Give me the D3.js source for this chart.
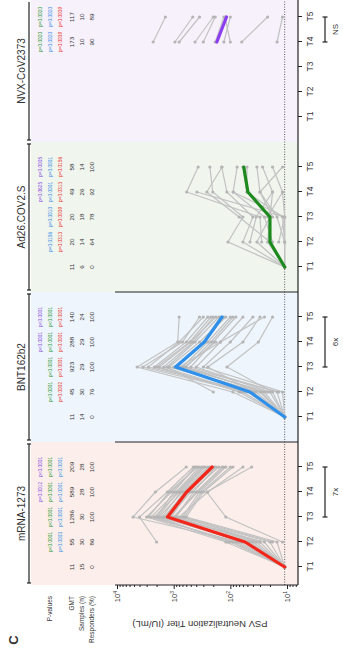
<!DOCTYPE html>
<html>
<head>
<meta charset="utf-8">
<script src="https://cdn.jsdelivr.net/npm/d3@7"></script>
<style>
  body { margin: 0; background: #fff; }
  text { font-family: "Liberation Sans", Arial, sans-serif; fill: #333; }
</style>
</head>
<body>
<svg id="chart" width="343" height="658"></svg>
<script>
// ---- data ----
var timepoints = ["T1", "T2", "T3", "T4", "T5"];
var vaccines = ["mRNA-1273", "BNT162b2", "Ad26.COV2.S", "NVX-CoV2373"];

// geometric mean titers (IU/mL) per timepoint
var gmt = [
  [11, 55, 1286, 589, 209],
  [11, 45, 923, 288, 140],
  [11, 20, 20, 49, 58],
  [null, null, null, 173, 117]
];
var samples = [
  [15, 30, 30, 28, 28],
  [14, 30, 29, 29, 24],
  [6, 14, 18, 26, 14],
  [null, null, null, 10, 10]
];
var responders = [
  [0, 86, 100, 100, 100],
  [0, 76, 100, 100, 100],
  [0, 64, 78, 92, 100],
  [null, null, null, 90, 89]
];

// p-values, three stacked lines per timepoint
var pValues = [
  [null, [null, "p<0.0001", "p=0.0003"], [null, "p<0.0001", "p<0.0001"], ["p=0.0012", "p<0.0001", "p<0.0001"], ["p<0.0001", "p<0.0001", "p<0.0001"]],
  [null, [null, "p<0.0001", "p=0.0002"], [null, "p<0.0001", "p<0.0001"], ["p<0.0001", "p<0.0001", "p<0.0001"], ["p<0.0001", "p<0.0001", "p<0.0001"]],
  [null, [null, "p=0.0156", "p=0.0313"], [null, "p=0.0010", "p=0.0039"], ["p=0.0625", "p<0.0001", "p=0.0313"], ["p=0.0005", "p=0.0001", "p=0.0156"]],
  [null, null, null, ["p=0.0020", "p=0.0020", "p=0.0039"], ["p=0.0020", "p=0.0020", "p=0.0039"]]
];
var pColors = [
  ["#8b4fe6", "#2f9a35", "#3a8fe6"],
  ["#8b4fe6", "#2f9a35", "#e8382c"],
  ["#8b4fe6", "#3a8fe6", "#e8382c"],
  ["#2f9a35", "#3a8fe6", "#e8382c"]
];

// fold change brackets
var foldLabels = ["7x", "6x", null, "NS"];
var foldFrom = ["T3", "T3", null, "T4"];
var foldTo = ["T5", "T5", null, "T5"];

// individual participants (IU/mL), T1..T5
var mrnaTiters = [
  [11, 60, 1500, 600, 210], [11, 40, 900, 450, 180], [11, 90, 2200, 800, 300],
  [11, 30, 700, 350, 120], [11, 120, 3000, 1100, 400], [11, 25, 1200, 500, 160],
  [11, 70, 5200, 2100, 600], [11, 50, 1800, 700, 250], [11, 15, 600, 300, 90],
  [11, 35, 1000, 400, 140], [11, 80, 2500, 900, 350], [11, 20, 800, 250, 60],
  [11, 45, 1400, 650, 230], [11, 100, 2000, 1000, 420], [11, 55, 1100, 550, 190],
  [null, 2000, 4000, 1300, 450], [null, 12, 120, 260, 42], [null, 65, 1600, 750, 280],
  [null, 30, 950, 380, 130], [null, 75, 2800, 1200, 380], [null, 18, 650, 320, 100],
  [null, 110, 1900, 850, 320]
];
var bntTiters = [
  [11, 40, 1000, 300, 150], [11, 25, 700, 250, 100], [11, 60, 1500, 450, 200],
  [11, 15, 500, 200, 80], [11, 90, 4400, 850, 800], [11, 30, 1200, 350, 120],
  [11, 50, 2200, 600, 250], [11, 20, 400, 150, 60], [11, 35, 900, 280, 130],
  [11, 12, 300, 100, 40], [11, 70, 1800, 500, 180], [11, 45, 2800, 800, 300],
  [11, 18, 115, 32, 18], [11, 28, 600, 220, 90], [null, 55, 3500, 700, 350],
  [null, 22, 800, 150, 25], [null, 200, 1300, 420, 160], [null, 38, 250, 60, 30],
  [null, 65, 2000, 520, 220], [null, 14, 650, 180, null]
];
var ad26Titers = [
  [11, 22, 20, 51, 60], [11, 11, 15, 30, 34], [11, 60, 40, 115, 142],
  [11, 34, 20, 18, 27], [11, 11, 11, 12, 18], [11, 110, 60, 204, 230],
  [null, 18, 25, 89, 76], [null, 11, 12, 51, 51], [null, 28, 30, 590, 370],
  [null, 14, 11, 390, null], [null, null, 18, 30, 12], [null, null, 22, 12, null],
  [null, 45, 35, 18, null], [null, null, 11, 89, null], [null, 20, 70, 260, 140]
];
var nvxTiters = [
  [null, null, null, 2300, 1400], [null, null, null, 950, 460], [null, null, null, 800, 350],
  [null, null, null, 420, 200], [null, null, null, 185, 130], [null, null, null, 100, 125],
  [null, null, null, 63, 22], [null, null, null, 15, 12], [null, null, null, 300, 185],
  [null, null, null, 130, 100]
];
var titers = [mrnaTiters, bntTiters, ad26Titers, nvxTiters];

var gmtColors = ["#f2261b", "#2e90ea", "#1d8a1d", "#8a3ef0"];
var panelFills = ["#fcefeb", "#eef5fc", "#f0f5ee", "#f7f1fb"];

var yMajor = [10, 100, 1000, 10000];
var yMinor = [7, 8, 9, 20, 30, 40, 50, 60, 70, 80, 90, 200, 300, 400, 500, 600, 700, 800, 900,
              2000, 3000, 4000, 5000, 6000, 7000, 8000, 9000];
var lod = 11;

// ---- layout: drawn upright, then turned a quarter to the left ----
var W = 658, H = 343;
var axisX = 73, axisY = 298;

var svg = d3.select("#chart");
var g = svg.append("g").attr("transform", "translate(0," + W + ") rotate(-90)");

var y = d3.scaleLog().domain([6.4, 10000]).range([axisY, 117]);
var panelStart = d3.scaleLinear().domain([0, 1]).range([66, 216]);

function xScale(i) {
  return d3.scalePoint().domain(timepoints).range([panelStart(i) + 25, panelStart(i) + 125]);
}

// panel backgrounds
vaccines.forEach(function(v, i) {
  var x0 = Math.max(panelStart(i), axisX);
  var x1 = Math.min(panelStart(i + 1), W);
  g.append("rect")
    .attr("x", x0).attr("y", 31)
    .attr("width", x1 - x0).attr("height", axisY - 31)
    .attr("fill", panelFills[i]);

  // title bar with end caps
  var bar = g.append("g").attr("stroke", "#222").attr("stroke-width", 1.2);
  bar.append("line").attr("x1", x0 + 2).attr("x2", x1 - 2).attr("y1", 29).attr("y2", 29);
  bar.append("line").attr("x1", x0 + 2).attr("x2", x0 + 2).attr("y1", 27).attr("y2", 31);
  if (i < vaccines.length - 1)
    bar.append("line").attr("x1", x1 - 2).attr("x2", x1 - 2).attr("y1", 27).attr("y2", 31);

  g.append("text")
    .attr("x", (x0 + x1) / 2).attr("y", 25)
    .attr("text-anchor", "middle")
    .attr("font-size", 10)
    .text(v);
});

// panel separators
[1, 2].forEach(function(i) {
  g.append("line")
    .attr("x1", panelStart(i)).attr("x2", panelStart(i))
    .attr("y1", 115).attr("y2", axisY)
    .attr("stroke", "#222").attr("stroke-width", 1.2);
});

// table rows
var rowY = { gmt: 74, n: 84, resp: 94 };
var rowLabels = [["P-values", 52], ["GMT", rowY.gmt], ["Samples (n)", rowY.n], ["Responders (%)", rowY.resp]];
g.selectAll(".rowlabel")
  .data(rowLabels)
  .enter()
  .append("text")
  .attr("class", "rowlabel")
  .attr("x", 62).attr("y", d => d[1])
  .attr("text-anchor", "end")
  .attr("font-size", 6.5)
  .text(d => d[0]);

vaccines.forEach(function(v, i) {
  var x = xScale(i);
  var cols = timepoints.map(function(t, j) {
    return { t: t, gmt: gmt[i][j], n: samples[i][j], resp: responders[i][j], p: pValues[i][j] };
  });

  var col = g.selectAll(".col" + i)
    .data(cols.filter(d => d.gmt != null))
    .enter()
    .append("g")
    .attr("transform", d => "translate(" + x(d.t) + ",0)");

  col.append("text").attr("y", rowY.gmt).attr("text-anchor", "middle").attr("font-size", 6.2).text(d => d.gmt);
  col.append("text").attr("y", rowY.n).attr("text-anchor", "middle").attr("font-size", 6.2).text(d => d.n);
  col.append("text").attr("y", rowY.resp).attr("text-anchor", "middle").attr("font-size", 6.2).text(d => d.resp);

  col.filter(d => d.p != null)
    .selectAll(".pv")
    .data(d => d.p.map(function(s, k) { return { s: s, k: k }; }).filter(e => e.s != null))
    .enter()
    .append("text")
    .attr("y", e => 41.5 + e.k * 10)
    .attr("text-anchor", "middle")
    .attr("font-size", 4.8)
    .style("fill", e => pColors[i][e.k])
    .text(e => e.s);
});

// panel label
g.append("text")
  .attr("x", 18).attr("y", 18)
  .attr("text-anchor", "middle")
  .attr("font-size", 13).attr("font-weight", "bold")
  .text("C");

// limit of detection
g.append("line")
  .attr("x1", axisX).attr("x2", W)
  .attr("y1", y(lod)).attr("y2", y(lod))
  .attr("stroke", "#333").attr("stroke-width", 0.8)
  .attr("stroke-dasharray", "1,1.5");

// individual participants and GMT lines
var line = d3.line()
  .defined(d => d.v != null)
  .x(d => d.x)
  .y(d => y(d.v));

vaccines.forEach(function(v, i) {
  var x = xScale(i);
  var subjects = titers[i].map(function(row) {
    return row.map(function(val, j) { return { x: x(timepoints[j]), v: val }; });
  });

  var people = g.append("g");
  people.selectAll("path")
    .data(subjects)
    .enter()
    .append("path")
    .attr("d", line)
    .attr("fill", "none")
    .attr("stroke", "#c2c2c2")
    .attr("stroke-width", 1.2);

  people.selectAll("circle")
    .data(subjects.flat().filter(d => d.v != null))
    .enter()
    .append("circle")
    .attr("cx", d => d.x)
    .attr("cy", d => y(d.v))
    .attr("r", 1.6)
    .attr("fill", "#b5b5b5");

  g.append("path")
    .datum(gmt[i].map(function(val, j) { return { x: x(timepoints[j]), v: val }; }))
    .attr("d", line)
    .attr("fill", "none")
    .attr("stroke", gmtColors[i])
    .attr("stroke-width", 3.2)
    .attr("stroke-linecap", "round")
    .attr("stroke-linejoin", "round");
});

// y axis (log)
var yAxis = g.append("g")
  .attr("transform", "translate(" + axisX + ",0)")
  .call(d3.axisLeft(y).tickValues(yMajor).tickSize(4).tickPadding(2).tickFormat(() => "10"));
yAxis.select(".domain").remove();
yAxis.selectAll(".tick text")
  .attr("font-size", 7.5)
  .append("tspan")
  .attr("dy", -3)
  .attr("font-size", 5)
  .text(d => Math.round(Math.log10(d)));
g.append("g")
  .attr("transform", "translate(" + axisX + ",0)")
  .call(d3.axisLeft(y).tickValues(yMinor).tickSize(2).tickFormat(""))
  .select(".domain").remove();
g.selectAll(".tick line").attr("stroke", "#222");
g.append("line")
  .attr("x1", axisX).attr("x2", axisX).attr("y1", 115).attr("y2", axisY)
  .attr("stroke", "#222").attr("stroke-width", 1.2);

g.append("text")
  .attr("transform", "translate(37,200) rotate(-90)")
  .attr("text-anchor", "middle")
  .attr("font-size", 9.5)
  .text("PSV Neutralization Titer (IU/mL)");

// time axes
g.append("line")
  .attr("x1", axisX).attr("x2", W).attr("y1", axisY).attr("y2", axisY)
  .attr("stroke", "#222").attr("stroke-width", 1.2);

vaccines.forEach(function(v, i) {
  var x = xScale(i);
  var ax = g.append("g")
    .attr("transform", "translate(0," + axisY + ")")
    .call(d3.axisBottom(x).tickSize(4).tickPadding(5));
  ax.select(".domain").remove();
  ax.selectAll(".tick line").attr("stroke", "#222");
  ax.selectAll(".tick text").attr("font-size", 8.5);

  if (foldLabels[i] != null) {
    var a = x(foldFrom[i]), b = x(foldTo[i]);
    var br = g.append("g").attr("stroke", "#222").attr("stroke-width", 1.2);
    br.append("line").attr("x1", a).attr("x2", b).attr("y1", 325).attr("y2", 325);
    br.append("line").attr("x1", a).attr("x2", a).attr("y1", 322.5).attr("y2", 327.5);
    br.append("line").attr("x1", b).attr("x2", b).attr("y1", 322.5).attr("y2", 327.5);
    g.append("text")
      .attr("x", (a + b) / 2).attr("y", 338)
      .attr("text-anchor", "middle")
      .attr("font-size", 8)
      .text(foldLabels[i]);
  }
});
</script>
</body>
</html>
